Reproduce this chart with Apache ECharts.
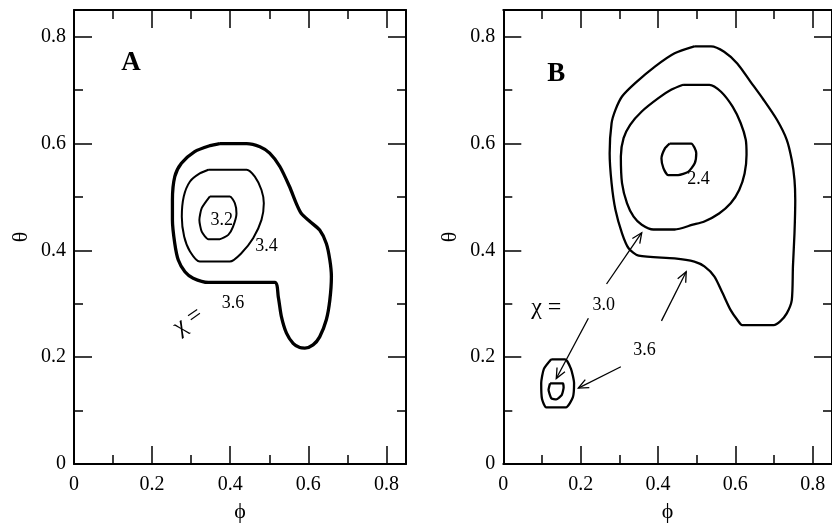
<!DOCTYPE html>
<html>
<head>
<meta charset="utf-8">
<script src="https://cdn.jsdelivr.net/npm/echarts@6/dist/echarts.min.js"></script>
<style>html,body{margin:0;padding:0;background:#fff}#c{width:832px;height:529px}</style>
</head>
<body>
<div id="c"></div>
<script>
// ---- axis ticks ----
const tickValues = [0, 0.2, 0.4, 0.6, 0.8];
const axisMax = 0.85;

// ---- Panel A contours (phi, theta) ----
const A_chi36 = [[0.373,0.600],[0.442,0.600],[0.476,0.594],[0.501,0.582],[0.527,0.557],[0.552,0.519],[0.569,0.488],[0.582,0.469],[0.604,0.454],[0.629,0.438],[0.646,0.413],[0.655,0.382],[0.659,0.351],[0.655,0.307],[0.646,0.270],[0.629,0.238],[0.612,0.223],[0.591,0.217],[0.578,0.218],[0.561,0.226],[0.544,0.245],[0.531,0.276],[0.523,0.313],[0.514,0.340],[0.344,0.340],[0.305,0.348],[0.284,0.360],[0.267,0.382],[0.258,0.413],[0.252,0.457],[0.252,0.494],[0.258,0.538],[0.275,0.563],[0.309,0.585],[0.348,0.596],[0.373,0.600]];
const A_chi34 = [[0.344,0.551],[0.442,0.551],[0.463,0.538],[0.480,0.513],[0.486,0.488],[0.480,0.457],[0.459,0.423],[0.429,0.395],[0.399,0.379],[0.322,0.379],[0.297,0.398],[0.282,0.426],[0.276,0.463],[0.281,0.501],[0.297,0.529],[0.322,0.544],[0.344,0.551]];
const A_chi32 = [[0.348,0.501],[0.399,0.501],[0.412,0.488],[0.416,0.469],[0.407,0.444],[0.395,0.429],[0.373,0.421],[0.344,0.421],[0.327,0.435],[0.321,0.457],[0.327,0.479],[0.348,0.501]];

// ---- Panel B contours ----
const B_chi36 = [[0.494,0.782],[0.537,0.782],[0.571,0.772],[0.605,0.750],[0.639,0.716],[0.673,0.682],[0.708,0.644],[0.733,0.607],[0.746,0.569],[0.753,0.532],[0.755,0.494],[0.753,0.432],[0.749,0.370],[0.746,0.307],[0.733,0.282],[0.716,0.267],[0.699,0.260],[0.618,0.260],[0.605,0.270],[0.588,0.288],[0.567,0.320],[0.546,0.351],[0.520,0.370],[0.494,0.379],[0.443,0.385],[0.350,0.390],[0.324,0.404],[0.307,0.432],[0.290,0.476],[0.280,0.526],[0.275,0.582],[0.280,0.638],[0.290,0.663],[0.307,0.688],[0.341,0.713],[0.392,0.744],[0.443,0.769],[0.494,0.782]];
const B_chi30 = [[0.465,0.710],[0.533,0.710],[0.563,0.697],[0.593,0.669],[0.614,0.638],[0.627,0.607],[0.629,0.579],[0.624,0.544],[0.610,0.513],[0.588,0.488],[0.558,0.469],[0.520,0.454],[0.490,0.448],[0.443,0.439],[0.388,0.439],[0.358,0.448],[0.337,0.463],[0.320,0.488],[0.307,0.526],[0.304,0.576],[0.311,0.610],[0.328,0.635],[0.358,0.660],[0.401,0.685],[0.435,0.701],[0.465,0.710]];
const B_chi24 = [[0.430,0.600],[0.486,0.600],[0.499,0.582],[0.495,0.563],[0.478,0.547],[0.452,0.541],[0.426,0.541],[0.414,0.554],[0.409,0.572],[0.418,0.591],[0.430,0.600]];
const B_island36 = [[0.124,0.196],[0.160,0.196],[0.175,0.178],[0.183,0.151],[0.180,0.125],[0.162,0.106],[0.111,0.106],[0.100,0.122],[0.098,0.151],[0.105,0.178],[0.124,0.196]];
const B_island30 = [[0.121,0.151],[0.154,0.151],[0.156,0.143],[0.151,0.129],[0.137,0.121],[0.124,0.123],[0.117,0.139],[0.121,0.151]];

// ---- annotations [phi, theta, text, rotation, fontSize] ----
const A_labels = [[0.378,0.457,'3.2',0,18],[0.493,0.407,'3.4',0,18],[0.407,0.301,'3.6',0,18],[0.292,0.268,'χ =',35,24]];
const B_labels = [[0.505,0.534,'2.4',0,18],[0.111,0.293,'χ =',0,24],[0.260,0.298,'3.0',0,18],[0.365,0.213,'3.6',0,18]];
const panelTags = [[0.146,0.750,'A'],[0.137,0.730,'B']];
// arrows [phiFrom, thetaFrom, phiTo, thetaTo]
const B_arrows = [[0.267,0.337,0.358,0.433],[0.220,0.273,0.137,0.160],[0.409,0.268,0.473,0.360],[0.304,0.182,0.194,0.142]];

const serif = 'Liberation Serif, Times New Roman, serif';
const chart = echarts.init(document.getElementById('c'), null, {renderer:'canvas'});

function fmt(v){ const r = +(+v).toFixed(2); return tickValues.indexOf(r) >= 0 ? String(r) : ''; }

function xAx(gi, pos, showLabels) {
  return {
    type:'value', gridIndex:gi, position:pos, min:0, max:axisMax, interval:0.2,
    name: showLabels ? 'ϕ' : '', nameLocation:'middle', nameGap:37,
    nameTextStyle:{fontFamily:serif, fontSize:22, color:'#000'},
    axisLine:{show:true, onZero:false, lineStyle:{color:'#000', width:2}},
    axisTick:{show:true, inside:true, length:18, lineStyle:{color:'#000', width:1.5}},
    minorTick:{show:true, splitNumber:2, length:9, lineStyle:{color:'#000', width:1.5}},
    axisLabel:{show:showLabels, showMaxLabel:false, margin:11, fontFamily:serif, fontSize:20, color:'#000', formatter:fmt},
    splitLine:{show:false}, minorSplitLine:{show:false}
  };
}
function yAx(gi, pos, showLabels) {
  return {
    type:'value', gridIndex:gi, position:pos, min:0, max:axisMax, interval:0.2,
    name: showLabels ? 'θ' : '', nameLocation:'middle', nameGap:42, nameRotate:90,
    nameTextStyle:{fontFamily:serif, fontSize:22, color:'#000'},
    axisLine:{show:true, onZero:false, lineStyle:{color:'#000', width:2}},
    axisTick:{show:true, inside:true, length:18, lineStyle:{color:'#000', width:1.5}},
    minorTick:{show:true, splitNumber:2, length:9, lineStyle:{color:'#000', width:1.5}},
    axisLabel:{show:showLabels, showMaxLabel:false, margin:8, fontFamily:serif, fontSize:20, color:'#000', formatter:fmt},
    splitLine:{show:false}, minorSplitLine:{show:false}
  };
}

function contour(data, xi, yi, w, sm) {
  return {type:'line', xAxisIndex:xi, yAxisIndex:yi, data:data, symbol:'none', smooth:sm,
    lineStyle:{color:'#000', width:w}, silent:true, animation:false, z:3};
}
function labels(data, xi, yi) {
  return {type:'scatter', xAxisIndex:xi, yAxisIndex:yi, symbolSize:0, silent:true, animation:false, z:5,
    itemStyle:{opacity:1},
    data: data.map(d => ({value:[d[0], d[1]], name:d[2], label:{rotate:d[3], fontSize:d[4]}})),
    label:{show:true, position:'inside', formatter: p => p.name, fontFamily:serif, color:'#000'}};
}
function tag(d, xi, yi) {
  return {type:'scatter', xAxisIndex:xi, yAxisIndex:yi, symbolSize:0, silent:true, animation:false, z:5,
    itemStyle:{opacity:1},
    data:[{value:[d[0], d[1]], name:d[2]}],
    label:{show:true, position:'inside', formatter: p => p.name, fontFamily:serif, fontSize:27, fontWeight:'bold', color:'#000'}};
}

chart.setOption({
  animation:false,
  backgroundColor:'#fff',
  grid:[
    {left:74, top:10, width:332, height:454},
    {left:503.3, top:10, width:332, height:454}
  ],
  xAxis:[xAx(0,'bottom',true), xAx(0,'top',false), xAx(1,'bottom',true), xAx(1,'top',false)],
  yAxis:[yAx(0,'left',true), yAx(0,'right',false), yAx(1,'left',true), yAx(1,'right',false)],
  series:[
    contour(A_chi36,0,0,3.3,0.25),
    contour(A_chi34,0,0,2,0.25),
    contour(A_chi32,0,0,2,0.2),
    labels(A_labels,0,0),
    tag(panelTags[0],0,0),
    contour(B_chi36,2,2,2.3,0.25),
    contour(B_chi30,2,2,2.3,0.25),
    contour(B_chi24,2,2,2.3,0.2),
    contour(B_island36,2,2,2.3,0.2),
    contour(B_island30,2,2,2.3,0.15),
    labels(B_labels,2,2),
    tag(panelTags[1],2,2),
    {
      type:'custom', xAxisIndex:2, yAxisIndex:2, silent:true, animation:false, z:4,
      data:B_arrows,
      encode:{x:[0,2], y:[1,3]},
      renderItem:function(params, api){
        const p1 = api.coord([api.value(0), api.value(1)]);
        const p2 = api.coord([api.value(2), api.value(3)]);
        const ang = Math.atan2(p2[1]-p1[1], p2[0]-p1[0]);
        const L = 11, a = 0.42;
        const h1 = [p2[0]-L*Math.cos(ang-a), p2[1]-L*Math.sin(ang-a)];
        const h2 = [p2[0]-L*Math.cos(ang+a), p2[1]-L*Math.sin(ang+a)];
        return {type:'group', children:[
          {type:'line', shape:{x1:p1[0], y1:p1[1], x2:p2[0], y2:p2[1]}, style:{stroke:'#000', lineWidth:1.3}},
          {type:'polyline', shape:{points:[h1,p2,h2]}, style:{stroke:'#000', fill:null, lineWidth:1.3}}
        ]};
      }
    }
  ]
});
</script>
</body>
</html>
